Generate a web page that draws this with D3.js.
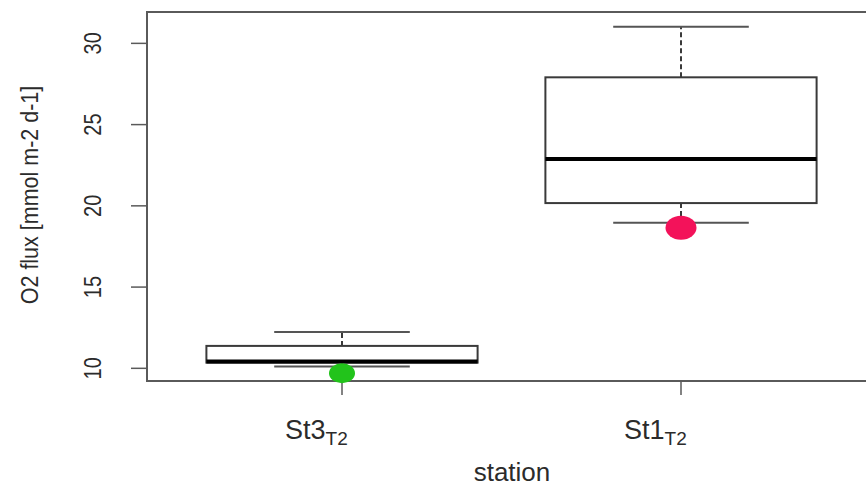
<!DOCTYPE html>
<html>
<head>
<meta charset="utf-8">
<script src="https://cdn.jsdelivr.net/npm/d3@7"></script>
<style>
  html, body { margin: 0; padding: 0; background: #fff; }
  svg text { font-family: "Liberation Sans", Arial, Helvetica, sans-serif; fill: #2b2b2b; }
</style>
</head>
<body>
<svg id="chart" width="866" height="488"></svg>
<script>
// data
var stations = ["St3", "St1"];
var subscripts = ["T2", "T2"];
var whiskerLow = [10.11, 18.96];
var q1 = [10.35, 20.17];
var median = [10.42, 22.88];
var q3 = [11.38, 27.91];
var whiskerHigh = [12.23, 31.02];
var pointValues = [9.70, 18.65];
var pointColors = ["#22c31b", "#f3125a"];
var yTicks = [10, 15, 20, 25, 30];

var svg = d3.select("#chart");
var plotLeft = 147, plotTop = 12, plotBottom = 381, plotRight = 880;

var y = d3.scaleLinear().domain([9.22, 31.93]).range([plotBottom, plotTop]);
var x = d3.scaleLinear().domain([1, 2]).range([342, 681]);
var boxHalf = x(1.4) - x(1);       // box width = 0.8 units
var capHalf = x(1.2) - x(1);       // staple = half the box

var lineColor = "#3a3a3a";

// plot frame (top + left + bottom, right side is cut off)
svg.append("path")
  .attr("d", "M" + plotRight + "," + plotTop + "H" + plotLeft + "V" + plotBottom + "H" + plotRight)
  .attr("fill", "none")
  .attr("stroke", "#5a5a5a")
  .attr("stroke-width", 2);

// y axis ticks + labels
var yAxis = svg.append("g");
yTicks.forEach(function(t) {
  yAxis.append("line")
    .attr("x1", plotLeft - 16).attr("x2", plotLeft)
    .attr("y1", y(t)).attr("y2", y(t))
    .attr("stroke", "#5a5a5a").attr("stroke-width", 1.5);
  yAxis.append("text")
    .attr("transform", "translate(101," + y(t) + ") scale(1.15,1) rotate(-90)")
    .attr("text-anchor", "middle")
    .attr("font-size", 20)
    .text(t);
});

svg.append("text")
  .attr("transform", "translate(38,195) scale(1.15,1) rotate(-90)")
  .attr("text-anchor", "middle")
  .attr("font-size", 21.5)
  .text("O2 flux [mmol m-2 d-1]");

// x ticks + labels
stations.forEach(function(s, i) {
  var cx = x(i + 1);
  svg.append("line")
    .attr("x1", cx).attr("x2", cx)
    .attr("y1", plotBottom).attr("y2", plotBottom + 14)
    .attr("stroke", "#5a5a5a").attr("stroke-width", 1.5);
  var lab = svg.append("text")
    .attr("x", cx - 57).attr("y", 439)
    .attr("font-size", 27)
    .attr("font-family", "'Open Sans', 'DejaVu Sans', sans-serif");
  lab.append("tspan").text(s);
  lab.append("tspan").attr("font-size", 19).attr("dy", 6).text(subscripts[i]);
});

svg.append("text")
  .attr("x", 512).attr("y", 481)
  .attr("text-anchor", "middle")
  .attr("font-size", 26)
  .text("station");

// boxes
var g = svg.append("g");
stations.forEach(function(s, i) {
  var cx = x(i + 1);
  // whiskers (dashed)
  g.append("line")
    .attr("x1", cx).attr("x2", cx)
    .attr("y1", y(q3[i])).attr("y2", y(whiskerHigh[i]))
    .attr("stroke", lineColor).attr("stroke-width", 2)
    .attr("stroke-dasharray", "5,3");
  g.append("line")
    .attr("x1", cx).attr("x2", cx)
    .attr("y1", y(q1[i])).attr("y2", y(whiskerLow[i]))
    .attr("stroke", lineColor).attr("stroke-width", 2)
    .attr("stroke-dasharray", "5,3");
  // staples
  [whiskerLow[i], whiskerHigh[i]].forEach(function(v) {
    g.append("line")
      .attr("x1", cx - capHalf).attr("x2", cx + capHalf)
      .attr("y1", y(v)).attr("y2", y(v))
      .attr("stroke", "#555").attr("stroke-width", 2);
  });
  // box
  g.append("rect")
    .attr("x", cx - boxHalf).attr("y", y(q3[i]))
    .attr("width", boxHalf * 2).attr("height", y(q1[i]) - y(q3[i]))
    .attr("fill", "#fff")
    .attr("stroke", lineColor).attr("stroke-width", 2);
  // median
  g.append("line")
    .attr("x1", cx - boxHalf).attr("x2", cx + boxHalf)
    .attr("y1", y(median[i])).attr("y2", y(median[i]))
    .attr("stroke", "#000").attr("stroke-width", 4);
  // highlighted point
  g.append("ellipse")
    .attr("cx", cx).attr("cy", y(pointValues[i]))
    .attr("rx", i === 0 ? 13 : 15.5).attr("ry", i === 0 ? 10 : 12)
    .attr("fill", pointColors[i]);
});
</script>
</body>
</html>
